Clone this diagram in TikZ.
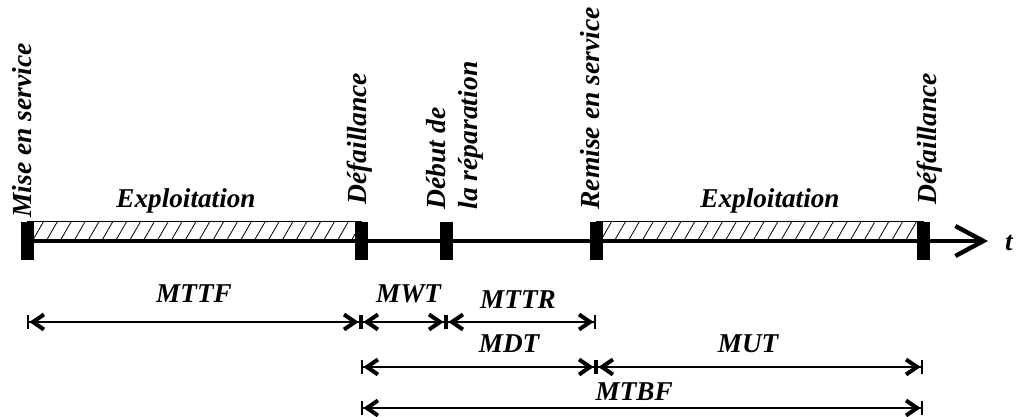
\documentclass[tikz,border=0pt]{standalone}
\usepackage{fontspec}
\setmainfont{Liberation Serif}
\usetikzlibrary{arrows.meta,patterns.meta}

\tikzset{
  evmark/.style={fill=black,minimum width=6.5pt,minimum height=19pt,inner sep=0pt},
  evlabel/.style={rotate=90,anchor=west,inner sep=0pt,align=left,
    font=\fontsize{13.8}{16}\selectfont\bfseries\itshape},
  phase/.style={draw,line width=0.5pt,
    pattern={Lines[angle=60,distance=6pt,line width=0.4pt]}},
  txt/.style={inner sep=0pt,anchor=base,font=\fontsize{13.6}{16}\selectfont\bfseries\itshape},
  dimtip/.tip={Straight Barb[length=5.5pt,width=7.5pt,line width=2pt,sep=0pt]Bar[width=7pt,line width=1.2pt]},
  dimline/.style={line width=1.3pt,dimtip-dimtip},
}

\begin{document}
\begin{tikzpicture}[x=0.5pt,y=-0.5pt]
  \useasboundingbox (0,0) rectangle (1018,417);

  % instants
  \node[evmark] (m1) at (27,241) {};
  \node[evmark] (m2) at (361,241) {};
  \node[evmark] (m3) at (446,241) {};
  \node[evmark] (m4) at (596,241) {};
  \node[evmark] (m5) at (923,241) {};
  \coordinate (tend) at (988,241);

  \draw[phase] ([yshift=10pt]m1.center) rectangle (m2.center);
  \draw[phase] ([yshift=10pt]m4.center) rectangle (m5.center);
  \draw[line width=2pt,-{Straight Barb[length=14pt,width=15pt,line width=2.2pt]}] (m1.center) -- (tend);

  \node[evlabel] (lmise) at (22,218) {Mise en service};
  \node[evlabel] (ldef1) at (360,205) {Défaillance};
  \node[evlabel] (ldeb) at (455,210) {Début de\\la réparation};
  \node[evlabel] (lrem) at (590,210) {Remise en service};
  \node[evlabel] (ldef2) at (930,205) {Défaillance};

  \node[txt] (exp1) at (186,207) {Exploitation};
  \node[txt] (exp2) at (770,207) {Exploitation};
  \node[txt] (tlab) at (1009,250) {t};

  % durees
  \coordinate (r1) at (0,322);
  \coordinate (r2) at (0,367);
  \coordinate (r3) at (0,408);

  \draw[dimline] (m1 |- r1) -- node[txt,pos=.5,yshift=10pt] {MTTF} (m2 |- r1);
  \draw[dimline] (m2 |- r1) -- node[txt,pos=.56,yshift=10pt] {MWT} (m3 |- r1);
  \draw[dimline] (m3 |- r1) -- node[txt,pos=.48,yshift=7pt] {MTTR} (m4 |- r1);
  \draw[dimline] (m2 |- r2) -- node[txt,pos=.63,yshift=7.5pt] {MDT} (m4 |- r2);
  \draw[dimline] (m4 |- r2) -- node[txt,pos=.465,yshift=7.5pt] {MUT} (m5 |- r2);
  \draw[dimline] (m2 |- r3) -- node[txt,pos=.486,yshift=4pt] {MTBF} (m5 |- r3);
\end{tikzpicture}
\end{document}
